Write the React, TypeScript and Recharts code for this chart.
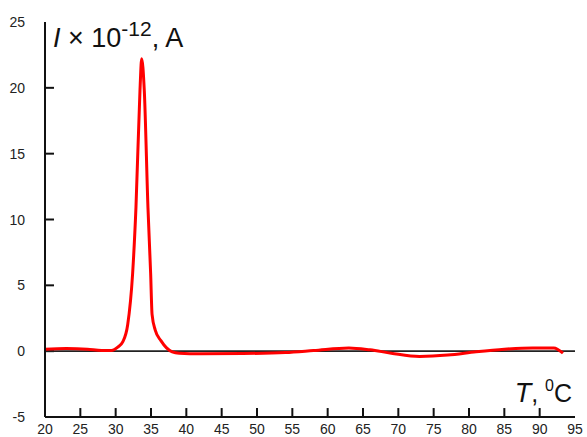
import React from "react";
import { LineChart, Line, XAxis, YAxis, ReferenceLine } from "recharts";

const temperatures = [20, 23, 26, 28, 29.4, 30.3, 31.0, 31.7, 32.4, 32.87, 33.44, 33.68, 34.05, 34.57, 34.95, 35.15, 35.6, 36.4, 37.2, 38, 39, 42, 48, 54, 58, 63, 66, 69, 73, 77, 81, 85, 89, 92, 93.3];
const currents = [0.15, 0.2, 0.15, 0.05, 0.05, 0.3, 0.7, 2.0, 5.9, 10.9, 19.8, 22.2, 19.8, 10.9, 5.9, 2.8, 1.6, 0.8, 0.25, -0.05, -0.15, -0.2, -0.18, -0.1, 0.05, 0.25, 0.1, -0.15, -0.4, -0.3, -0.05, 0.15, 0.25, 0.25, -0.15];
const xTicks = [20, 25, 30, 35, 40, 45, 50, 55, 60, 65, 70, 75, 80, 85, 90, 95];
const yTicks = [-5, 0, 5, 10, 15, 20, 25];
const xMarkTicks = [25, 30, 35, 40, 45, 50, 55, 60, 65, 70, 75, 80, 85, 90];
const yMarkTicks = [0, 5, 10, 15, 20];

const X_MIN = 20;
const X_MAX = 95;
const Y_MIN = -5;
const Y_MAX = 25;
const X_MARK_LEN = 0.68; // in y units
const Y_MARK_LEN = 1.27; // in x units

const data = temperatures.map((t, i) => ({ t, i: currents[i] }));

const FONT = "'Liberation Sans', Arial, sans-serif";

const XTick = (props: any) => {
  const { x, y, payload } = props;
  return (
    <text x={x} y={y + 17} textAnchor="middle" fontSize={14} fontFamily={FONT} fill="#222">
      {payload.value}
    </text>
  );
};

const YTick = (props: any) => {
  const { x, y, payload } = props;
  return (
    <text x={x - 20} y={y + 5} textAnchor="end" fontSize={14} fontFamily={FONT} fill="#222">
      {payload.value}
    </text>
  );
};

const YTitle = (props: any) => {
  const vb = props.viewBox || {};
  return (
    <text x={vb.x + vb.width + 8} y={vb.y + 25} fontFamily={FONT} fontSize={27} fill="#111">
      <tspan fontStyle="italic">I</tspan>
      <tspan> × 10</tspan>
      <tspan fontSize={21} dy={-11}>-12</tspan>
      <tspan dy={11}>, A</tspan>
    </text>
  );
};

const XTitle = (props: any) => {
  const vb = props.viewBox || {};
  return (
    <text x={vb.x + vb.width - 3} y={vb.y - 15} textAnchor="end" fontFamily={FONT} fontSize={25} fill="#111">
      <tspan fontStyle="italic" fontSize={27}>T</tspan>
      <tspan>, </tspan>
      <tspan fontSize={16} dy={-11}>0</tspan>
      <tspan dy={11}>C</tspan>
    </text>
  );
};

export default function App() {
  return (
    <div style={{ position: "absolute", left: 0, top: 0, width: 587, height: 437, background: "#fff" }}>
      <LineChart width={587} height={437} data={data} margin={{ top: 22, right: 12, left: 0, bottom: 0 }}>
        <XAxis
          dataKey="t"
          type="number"
          domain={[X_MIN, X_MAX]}
          ticks={xTicks}
          interval={0}
          height={20}
          tickSize={0}
          tickMargin={0}
          tickLine={false}
          axisLine={{ stroke: "#111", strokeWidth: 2 }}
          tick={<XTick />}
          label={{ content: <XTitle /> }}
        />
        <YAxis
          type="number"
          domain={[Y_MIN, Y_MAX]}
          ticks={yTicks}
          interval={0}
          width={45}
          tickSize={0}
          tickMargin={0}
          tickLine={false}
          axisLine={{ stroke: "#111", strokeWidth: 2 }}
          tick={<YTick />}
          label={{ content: <YTitle /> }}
        />
        {xMarkTicks.map((v) => (
          <ReferenceLine
            key={`xm${v}`}
            segment={[{ x: v, y: Y_MIN }, { x: v, y: Y_MIN + X_MARK_LEN }]}
            stroke="#111"
            strokeWidth={2}
          />
        ))}
        {yMarkTicks.map((v) => (
          <ReferenceLine
            key={`ym${v}`}
            segment={[{ x: X_MIN, y: v }, { x: X_MIN + Y_MARK_LEN, y: v }]}
            stroke="#111"
            strokeWidth={2}
          />
        ))}
        <ReferenceLine y={0} stroke="#222" strokeWidth={1.6} />
        <Line type="monotone" dataKey="i" stroke="#ff0000" strokeWidth={3} dot={false} isAnimationActive={false} />
      </LineChart>
    </div>
  );
}
